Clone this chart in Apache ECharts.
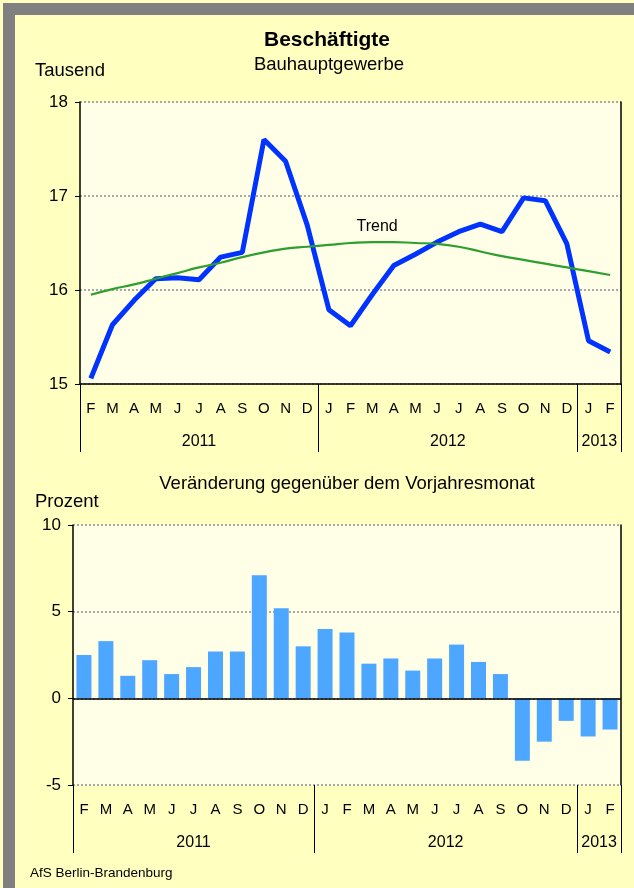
<!DOCTYPE html>
<html>
<head>
<meta charset="utf-8">
<script src="https://cdn.jsdelivr.net/npm/echarts@6/dist/echarts.min.js"></script>
<style>
    html, body { margin: 0; padding: 0; background: #FFFFC0; }
    #chart { width: 634px; height: 888px; }
</style>
</head>
<body>
<div id="chart"></div>
<script>
    // Monate Feb 2011 bis Feb 2013
    var months = ['F','M','A','M','J','J','A','S','O','N','D','J','F','M','A','M','J','J','A','S','O','N','D','J','F'];
    var years = ['2011', '2012', '2013'];
    var yearStart = [0, 11, 23];

    // Beschäftigte, Tausend
    var employed = [15.06, 15.63, 15.89, 16.12, 16.13, 16.11, 16.35, 16.40, 17.60, 17.37, 16.69,
                    15.79, 15.62, 15.95, 16.26, 16.38, 16.51, 16.62, 16.70, 16.62, 16.98, 16.95, 16.49,
                    15.46, 15.34];
    var trend = [15.95, 16.01, 16.06, 16.12, 16.18, 16.24, 16.29, 16.35, 16.40, 16.44, 16.46,
                 16.48, 16.50, 16.51, 16.51, 16.50, 16.49, 16.46, 16.41, 16.36, 16.32, 16.28, 16.24,
                 16.20, 16.16];
    // Veränderung gegenüber Vorjahresmonat, Prozent
    var change = [2.5, 3.3, 1.3, 2.2, 1.4, 1.8, 2.7, 2.7, 7.1, 5.2, 3.0,
                  4.0, 3.8, 2.0, 2.3, 1.6, 2.3, 3.1, 2.1, 1.4, -3.6, -2.5, -1.3,
                  -2.2, -1.8];

    var FONT = 'Liberation Sans, Arial, sans-serif';
    var chart = echarts.init(document.getElementById('chart'));

    function yearTick(i) {
        return yearStart.indexOf(i) >= 0;
    }

    function monthAxis(grid, lineShow) {
        return {
            gridIndex: grid,
            type: 'category',
            data: months,
            boundaryGap: true,
            axisLine: { show: lineShow, onZero: false, lineStyle: { color: '#000', width: 1.5 } },
            axisTick: { show: true, interval: yearTick, length: 68, lineStyle: { color: '#000', width: 1 } },
            axisLabel: { interval: 0, margin: 17, color: '#000', fontSize: 15, fontFamily: FONT }
        };
    }

    function valueAxis(grid, min, max, step) {
        return {
            gridIndex: grid,
            type: 'value',
            min: min,
            max: max,
            interval: step,
            axisLine: { show: true, lineStyle: { color: '#000', width: 1.5 } },
            axisTick: { show: true, length: 5, lineStyle: { color: '#000' } },
            axisLabel: { margin: 12, color: '#000', fontSize: 17, fontFamily: FONT },
            splitLine: { show: true, lineStyle: { color: '#a8a8a8', type: 'dotted', width: 2 } }
        };
    }

    function rightEdge(grid, min, max) {
        return {
            gridIndex: grid,
            type: 'value',
            position: 'right',
            min: min,
            max: max,
            axisLine: { show: true, lineStyle: { color: '#000', width: 1.5 } },
            axisTick: { show: false },
            axisLabel: { show: false },
            splitLine: { show: false }
        };
    }

    var option = {
        backgroundColor: '#FFFFC0',
        animation: false,
        grid: [
            { left: 80, right: 13, top: 102, height: 282, show: true, backgroundColor: '#FFFFE8', borderWidth: 0 },
            { left: 73, right: 13, top: 525, height: 260, show: true, backgroundColor: '#FFFFE8', borderWidth: 0 }
        ],
        xAxis: [monthAxis(0, true), monthAxis(1, false)],
        yAxis: [valueAxis(0, 15, 18, 1), rightEdge(0, 15, 18), valueAxis(1, -5, 10, 5), rightEdge(1, -5, 10)],
        series: [
            {
                type: 'line', xAxisIndex: 0, yAxisIndex: 0, data: employed,
                symbol: 'none', lineStyle: { color: '#0033FF', width: 5 }, z: 3
            },
            {
                type: 'line', xAxisIndex: 0, yAxisIndex: 0, data: trend, smooth: true,
                symbol: 'none', lineStyle: { color: '#2E9E2E', width: 2.2 }, z: 4
            },
            {
                type: 'bar', xAxisIndex: 1, yAxisIndex: 2, data: change, barWidth: 15,
                itemStyle: { color: '#4DA6FF' },
                markLine: {
                    silent: true, symbol: 'none', label: { show: false },
                    lineStyle: { color: '#000', type: 'solid', width: 1.5 },
                    data: [{ yAxis: 0 }]
                }
            }
        ],
        graphic: [
            { type: 'rect', shape: { x: 3, y: 3, width: 631, height: 12 }, style: { fill: '#808080' }, silent: true },
            { type: 'rect', shape: { x: 3, y: 3, width: 12, height: 885 }, style: { fill: '#808080' }, silent: true },
            { type: 'text', x: 327, y: 40, style: { text: 'Beschäftigte', textAlign: 'center', textVerticalAlign: 'middle', fontSize: 21, fontWeight: 'bold', fontFamily: FONT, fill: '#000' } },
            { type: 'text', x: 329, y: 65, style: { text: 'Bauhauptgewerbe', textAlign: 'center', textVerticalAlign: 'middle', fontSize: 18.5, fontFamily: FONT, fill: '#000' } },
            { type: 'text', x: 35, y: 71, style: { text: 'Tausend', textAlign: 'left', textVerticalAlign: 'middle', fontSize: 18.5, fontFamily: FONT, fill: '#000' } },
            { type: 'text', x: 347, y: 484, style: { text: 'Veränderung gegenüber dem Vorjahresmonat', textAlign: 'center', textVerticalAlign: 'middle', fontSize: 18.5, fontFamily: FONT, fill: '#000' } },
            { type: 'text', x: 35, y: 502, style: { text: 'Prozent', textAlign: 'left', textVerticalAlign: 'middle', fontSize: 18.5, fontFamily: FONT, fill: '#000' } },
            { type: 'text', x: 30, y: 873, style: { text: 'AfS Berlin-Brandenburg', textAlign: 'left', textVerticalAlign: 'middle', fontSize: 13.5, fontFamily: FONT, fill: '#000' } }
        ]
    };
    chart.setOption(option);

    // Jahreszahlen mittig unter den Monaten, Trend-Beschriftung
    var extra = [];
    [0, 1].forEach(function (ax) {
        years.forEach(function (yr, k) {
            var first = yearStart[k];
            var last = k + 1 < yearStart.length ? yearStart[k + 1] - 1 : months.length - 1;
            var x0 = chart.convertToPixel({ xAxisIndex: ax }, first);
            var x1 = chart.convertToPixel({ xAxisIndex: ax }, last);
            var base = chart.convertToPixel({ yAxisIndex: ax === 0 ? 0 : 2 }, ax === 0 ? 15 : -5);
            extra.push({
                type: 'text', x: (x0 + x1) / 2, y: base + 58,
                style: { text: yr, textAlign: 'center', textVerticalAlign: 'middle', fontSize: 16, fontFamily: FONT, fill: '#000' }
            });
        });
    });
    var tp = chart.convertToPixel({ seriesIndex: 1 }, [13, 16.67]);
    extra.push({
        type: 'text', x: tp[0] + 5, y: tp[1],
        style: { text: 'Trend', textAlign: 'center', textVerticalAlign: 'middle', fontSize: 16, fontFamily: FONT, fill: '#000' }
    });
    chart.setOption({ graphic: option.graphic.concat(extra) });
</script>
</body>
</html>
